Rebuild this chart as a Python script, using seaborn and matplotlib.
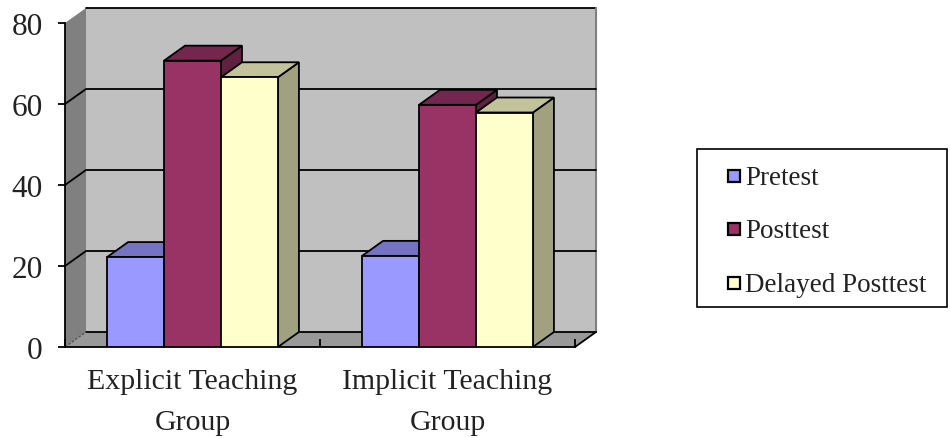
import numpy as np
import pandas as pd
import matplotlib
matplotlib.use("Agg")
import matplotlib.pyplot as plt
import matplotlib.colors as mcolors
from matplotlib.patches import Polygon, Rectangle
from matplotlib.lines import Line2D
import seaborn as sns

# ---- data -------------------------------------------------------------
groups = ["Explicit Teaching\nGroup", "Implicit Teaching\nGroup"]
tests = ["Pretest", "Posttest", "Delayed Posttest"]
pretest = [22.2, 22.5]
posttest = [70.7, 59.8]
delayed = [66.6, 57.9]
y_ticks = [0, 20, 40, 60, 80]

colors = ["#9999FF", "#993366", "#FFFFCC"]

df = pd.DataFrame({
    "group": groups * 3,
    "test": np.repeat(tests, len(groups)),
    "score": pretest + posttest + delayed,
})

# ---- style ------------------------------------------------------------
sns.set_theme(style="white")
plt.rcParams["font.family"] = ["Liberation Serif", "DejaVu Serif"]

W, H = 950, 439
fig = plt.figure(figsize=(W / 100, H / 100), dpi=100)
fig.patch.set_facecolor("white")

# front plane of the 3-D box
ax = fig.add_axes([65 / W, 1 - 348 / H, 510 / W, 324 / H])
ax.patch.set_visible(False)

sns.barplot(data=df, x="group", y="score", hue="test", order=groups,
            hue_order=tests, palette=colors, saturation=1, width=0.67,
            edgecolor="black", linewidth=1.3, legend=False, ax=ax)

ax.set_xlim(-0.5, 1.5)
ax.set_ylim(y_ticks[0], y_ticks[-1])
x0, x1 = ax.get_xlim()
ymin, ymax = ax.get_ylim()

# depth offset (21 px right, 15 px up) expressed in data units
DX = 21 / 510 * (x1 - x0)
DY = 15 / 324 * (ymax - ymin)

# ---- walls and floor --------------------------------------------------
wall_kw = dict(clip_on=False, zorder=0.5, linewidth=0)
ax.add_patch(Polygon([(x0 + DX, DY), (x1 + DX, DY), (x1 + DX, ymax + DY),
                      (x0 + DX, ymax + DY)], facecolor="#C0C0C0", **wall_kw))
ax.add_patch(Polygon([(x0, 0), (x0 + DX, DY), (x0 + DX, ymax + DY),
                      (x0, ymax)], facecolor="#808080", **wall_kw))
ax.add_patch(Polygon([(x0, 0), (x1, 0), (x1 + DX, DY), (x0 + DX, DY)],
                     facecolor="#999999", **wall_kw))

line_kw = dict(clip_on=False, zorder=0.8, color="black", linewidth=1.3)
# back-wall outline
ax.add_line(Line2D([x0 + DX, x1 + DX], [ymax + DY, ymax + DY], **line_kw))
ax.add_line(Line2D([x1 + DX, x1 + DX], [DY, ymax + DY], clip_on=False,
                   zorder=0.8, color="#808080", linewidth=1.5))
# floor edges
ax.add_line(Line2D([x0 + DX, x1 + DX], [DY, DY], **line_kw))
ax.add_line(Line2D([x1, x1 + DX], [0, DY], **line_kw))
ax.add_line(Line2D([x0, x0 + DX], [0, DY], clip_on=False, zorder=0.8,
                   color="#555555", linewidth=1.0, linestyle=(0, (2, 1))))
# gridlines on the side and back walls
for v in y_ticks[1:-1]:
    ax.add_line(Line2D([x0, x0 + DX, x1 + DX], [v, v + DY, v + DY], **line_kw))


# ---- 3-D bar faces ----------------------------------------------------
def shade(c, f):
    r, g, b = mcolors.to_rgb(c)
    return (r * f, g * f, b * f)


bars = []
for container, col in zip(ax.containers, colors):
    for p in container.patches:
        bars.append((p, col))
bars.sort(key=lambda t: t[0].get_x())

for i, (p, col) in enumerate(bars):
    bx, bw, bh = p.get_x(), p.get_width(), p.get_height()
    base = 3 + 3 * i
    ax.add_patch(Polygon([(bx + bw, 0), (bx + bw + DX, DY),
                          (bx + bw + DX, bh + DY), (bx + bw, bh)],
                         facecolor=shade(col, 0.63), edgecolor="black",
                         linewidth=1.3, zorder=base, clip_on=False))
    ax.add_patch(Polygon([(bx, bh), (bx + bw, bh), (bx + bw + DX, bh + DY),
                          (bx + DX, bh + DY)],
                         facecolor=shade(col, 0.76), edgecolor="black",
                         linewidth=1.3, zorder=base + 1, clip_on=False))
    p.set_zorder(base + 2)

# ---- axes -------------------------------------------------------------
for s in ["top", "right"]:
    ax.spines[s].set_visible(False)
for s in ["left", "bottom"]:
    ax.spines[s].set_color("black")
    ax.spines[s].set_linewidth(1.3)
    ax.spines[s].set_zorder(2)

ax.set_yticks(y_ticks)
ax.tick_params(axis="y", direction="out", length=5, width=1.3, color="black",
               pad=11, labelsize=22.5, left=True, labelcolor="#222222")
ax.set_xticks(range(len(groups)))
ax.set_xticks([-0.5, 0.5, 1.5], minor=True)
ax.tick_params(axis="x", which="major", length=0, pad=15, labelsize=21.5,
               labelcolor="#222222")
ax.tick_params(axis="x", which="minor", direction="in", length=5.5,
               width=1.3, color="black", bottom=True)
for lab in ax.get_xticklabels():
    lab.set_linespacing(1.78)
ax.set_xlabel("")
ax.set_ylabel("")

# ---- legend box -------------------------------------------------------
fig.patches.append(Rectangle((697 / W, 1 - 308 / H), 250 / W, 158 / H,
                             transform=fig.transFigure, facecolor="white",
                             edgecolor="black", linewidth=1.2))
baselines = [185, 238, 292]
for name, col, yb in zip(tests, colors, baselines):
    fig.patches.append(Rectangle((728 / W, 1 - (yb - 2) / H), 12 / W, 12 / H,
                                 transform=fig.transFigure, facecolor=col,
                                 edgecolor="black", linewidth=1.6))
    fig.text(745 / W, 1 - yb / H, name, fontsize=19.5, ha="left",
             va="baseline", color="#222222")

fig.savefig("out.png", dpi=100)
